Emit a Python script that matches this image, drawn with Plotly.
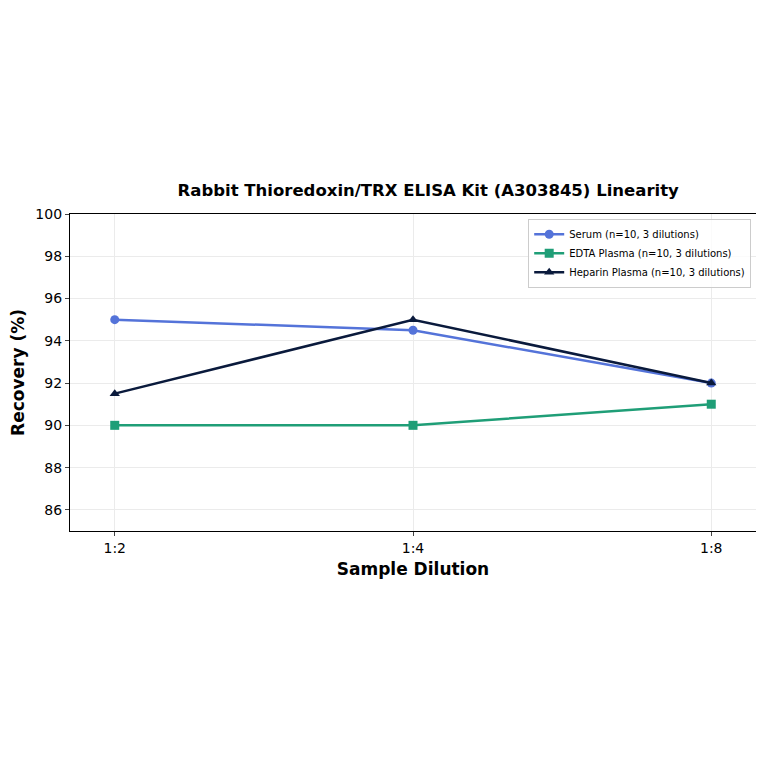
import plotly.graph_objects as go

# Dilution categories and recovery values (%)
dilutions = ['1:2', '1:4', '1:8']
serum = [95.0, 94.5, 92.0]
edta_plasma = [90.0, 90.0, 91.0]
heparin_plasma = [91.5, 95.0, 92.0]
y_ticks = [86, 88, 90, 92, 94, 96, 98, 100]

fig = go.Figure()

series = [
    ('Serum (n=10, 3 dilutions)', serum, '#5473d9', 'circle'),
    ('EDTA Plasma (n=10, 3 dilutions)', edta_plasma, '#1f9e77', 'square'),
    ('Heparin Plasma (n=10, 3 dilutions)', heparin_plasma, '#0a1a3c', 'triangle-up'),
]
for name, vals, color, sym in series:
    fig.add_trace(go.Scatter(
        x=[0, 1, 2], y=vals, name=name, mode='lines+markers',
        line=dict(color=color, width=2.5),
        marker=dict(color=color, symbol=sym, size=9)
    ))

# page body adds ~8px offset, so margins are shifted to compensate
fig.update_layout(
    width=764, height=764,
    paper_bgcolor='white', plot_bgcolor='white',
    font=dict(family='DejaVu Sans', size=14, color='black'),
    margin=dict(l=62, r=16, t=206, b=241, autoexpand=False),
    title=dict(text='<b>Rabbit Thioredoxin/TRX ELISA Kit (A303845) Linearity</b>',
               x=0.55, xanchor='center', y=0.762, yanchor='middle',
               font=dict(size=16.5)),
    showlegend=True,
    legend=dict(x=0.993, y=0.985, xanchor='right', yanchor='top',
                bgcolor='rgba(255,255,255,0.8)', bordercolor='#cccccc', borderwidth=1,
                font=dict(size=10), tracegroupgap=0, itemwidth=30),
)
fig.update_xaxes(
    tickvals=[0, 1, 2], ticktext=dilutions, range=[-0.15, 2.15],
    showgrid=True, gridcolor='#ebebeb', gridwidth=1,
    showline=True, linecolor='black', linewidth=1.2, mirror=True,
    ticks='outside', ticklen=4, automargin=False,
    title=dict(text='<b>Sample Dilution</b>', font=dict(size=17), standoff=8),
    zeroline=False
)
fig.update_yaxes(
    tickvals=y_ticks, range=[85, 100],
    showgrid=True, gridcolor='#ebebeb', gridwidth=1,
    showline=True, linecolor='black', linewidth=1.2, mirror=True,
    ticks='outside', ticklen=4, automargin=False,
    title=dict(text='<b>Recovery (%)</b>', font=dict(size=17), standoff=8),
    zeroline=False
)

fig.write_html('out.html')
